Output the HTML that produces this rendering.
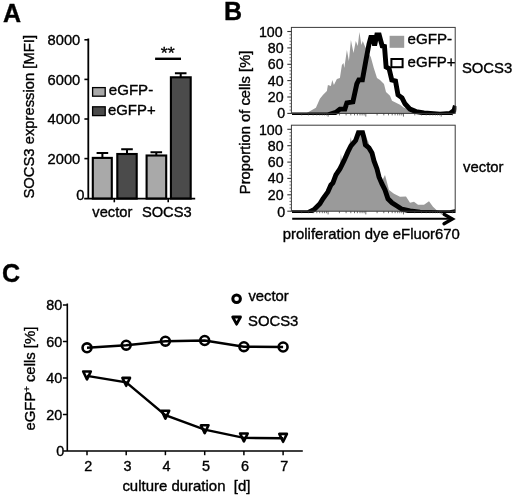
<!DOCTYPE html>
<html><head><meta charset="utf-8"><title>Figure</title>
<style>
html,body{margin:0;padding:0;background:#fff;}
svg{display:block;}
text{font-family:"Liberation Sans", Arial, Helvetica, sans-serif;fill:#000;stroke:#000;stroke-width:0.36px;}
</style></head><body>
<svg width="520" height="501" viewBox="0 0 520 501">
<rect x="0" y="0" width="520" height="501" fill="#fff"/>

<text x="3.1" y="21.9" font-size="25" font-weight="bold">A</text>
<text x="224" y="19.6" font-size="25" font-weight="bold">B</text>
<text x="1.9" y="282" font-size="25" font-weight="bold">C</text>
<g font-size="14.7">
<path d="M102.4 157.9V153.0M96.6 153.0H108.2" stroke="#000" stroke-width="2" fill="none"/>
<rect x="92.8" y="157.9" width="19.0" height="40.7" fill="#a9a9a9" stroke="#000" stroke-width="2.1"/>
<path d="M127.0 154.0V149.2M121.2 149.2H132.8" stroke="#000" stroke-width="2" fill="none"/>
<rect x="117.3" y="154.0" width="19.4" height="44.6" fill="#4b4b4b" stroke="#000" stroke-width="2.1"/>
<path d="M156.3 155.5V152.2M150.5 152.2H162.1" stroke="#000" stroke-width="2" fill="none"/>
<rect x="146.6" y="155.5" width="19.6" height="43.1" fill="#a9a9a9" stroke="#000" stroke-width="2.1"/>
<path d="M180.7 77.3V73.2M174.9 73.2H186.5" stroke="#000" stroke-width="2" fill="none"/>
<rect x="170.9" y="77.3" width="19.8" height="121.3" fill="#4b4b4b" stroke="#000" stroke-width="2.1"/>
<path d="M88.3 38.5V198.6M84.2 198.6H195.2" stroke="#000" stroke-width="1.8" fill="none"/>
<text x="84.3" y="199.7" text-anchor="end">0</text>
<path d="M84.4 158.6H88.3" stroke="#000" stroke-width="1.6"/>
<text x="80.3" y="163.9" text-anchor="end">2000</text>
<path d="M84.4 119.0H88.3" stroke="#000" stroke-width="1.6"/>
<text x="80.3" y="124.3" text-anchor="end">4000</text>
<path d="M84.4 79.4H88.3" stroke="#000" stroke-width="1.6"/>
<text x="80.3" y="84.7" text-anchor="end">6000</text>
<path d="M84.4 39.8H88.3" stroke="#000" stroke-width="1.6"/>
<text x="80.3" y="45.1" text-anchor="end">8000</text>
<path d="M114.3 198.6V202.3" stroke="#000" stroke-width="1.6"/>
<path d="M168.2 198.6V202.3" stroke="#000" stroke-width="1.6"/>
<text x="112.3" y="217" text-anchor="middle">vector</text>
<text x="166.8" y="217" text-anchor="middle">SOCS3</text>
<text transform="translate(34.4,198.6) rotate(-90)" textLength="163.6" lengthAdjust="spacingAndGlyphs">SOCS3 expression [MFI]</text>
<rect x="92.6" y="87.6" width="12.6" height="8.6" fill="#a9a9a9" stroke="#000" stroke-width="1.3"/>
<rect x="92.6" y="106.8" width="12.6" height="8.8" fill="#4b4b4b" stroke="#000" stroke-width="1.3"/>
<text x="108.8" y="95.4" textLength="44.4" lengthAdjust="spacingAndGlyphs">eGFP-</text>
<text x="108" y="114.7" textLength="47.6" lengthAdjust="spacingAndGlyphs">eGFP+</text>
<path d="M155.1 58.8H181" stroke="#000" stroke-width="2.4"/>
<text transform="translate(167.8,58.6) scale(0.9,0.8)" font-size="20" text-anchor="middle" stroke="#000" stroke-width="0.35">**</text>
</g>
<g font-size="14.5">
<clipPath id="c1"><rect x="291.4" y="27.4" width="165" height="87.7"/></clipPath>
<polygon points="305.9,113.4 315.9,107.8 319.9,98.8 322.9,94.9 326.9,90.9 327.9,84.9 330.9,85.9 332.3,79.9 333.9,84.9 336.9,78.9 339.9,77.9 341.9,64.9 343.5,62.9 344.3,67.9 346.9,49.9 348.9,60.9 350.9,40.0 353.5,52.9 355.8,41.0 357.8,45.9 359.4,32.0 361.4,45.0 362.8,41.0 364.8,45.9 367.8,51.9 370.8,56.9 373.8,67.9 377.0,77.9 380.0,79.9 384.0,83.9 386.0,91.9 390.0,95.8 392.0,100.8 396.0,102.8 400.0,104.8 404.0,107.8 410.0,109.8 420.0,111.8 440.0,113.4" fill="#9a9a9a"/>
<polyline points="292.0,114.9 328.0,114.9 335.9,112.4 339.9,109.1 344.9,109.1 346.9,102.8 352.9,101.8 356.8,83.9 358.8,79.9 362.4,79.9 366.0,59.9 369.0,44.0 370.8,37.4 372.8,37.4 374.6,45.5 376.8,35.0 379.2,35.0 380.8,41.0 382.2,46.0 384.5,46.5 386.1,67.0 389.1,68.7 391.8,80.0 395.5,81.0 398.0,94.9 402.0,97.8 405.0,103.8 410.0,109.1 416.0,111.6 424.0,112.9 440.0,114.1 450.0,113.4 454.0,110.4 455.4,105.8" fill="none" stroke="#000" stroke-width="4.9" stroke-linejoin="miter" stroke-miterlimit="3" clip-path="url(#c1)"/>
<rect x="291.4" y="27.4" width="163.8" height="86.0" fill="none" stroke="#3a3a3a" stroke-width="1"/>
<path d="M301.7 113.4V115.4" stroke="#333" stroke-width="0.7"/>
<path d="M308.4 113.4V115.4" stroke="#333" stroke-width="0.7"/>
<path d="M313.1 113.4V115.4" stroke="#333" stroke-width="0.7"/>
<path d="M316.8 113.4V115.4" stroke="#333" stroke-width="0.7"/>
<path d="M319.7 113.4V115.4" stroke="#333" stroke-width="0.7"/>
<path d="M322.3 113.4V115.4" stroke="#333" stroke-width="0.7"/>
<path d="M324.4 113.4V115.4" stroke="#333" stroke-width="0.7"/>
<path d="M326.4 113.4V115.4" stroke="#333" stroke-width="0.7"/>
<path d="M328.1 113.4V116.6" stroke="#333" stroke-width="0.7"/>
<path d="M339.4 113.4V115.4" stroke="#333" stroke-width="0.7"/>
<path d="M346.1 113.4V115.4" stroke="#333" stroke-width="0.7"/>
<path d="M350.8 113.4V115.4" stroke="#333" stroke-width="0.7"/>
<path d="M354.5 113.4V115.4" stroke="#333" stroke-width="0.7"/>
<path d="M357.4 113.4V115.4" stroke="#333" stroke-width="0.7"/>
<path d="M360.0 113.4V115.4" stroke="#333" stroke-width="0.7"/>
<path d="M362.1 113.4V115.4" stroke="#333" stroke-width="0.7"/>
<path d="M364.1 113.4V115.4" stroke="#333" stroke-width="0.7"/>
<path d="M365.8 113.4V116.6" stroke="#333" stroke-width="0.7"/>
<path d="M377.1 113.4V115.4" stroke="#333" stroke-width="0.7"/>
<path d="M383.8 113.4V115.4" stroke="#333" stroke-width="0.7"/>
<path d="M388.5 113.4V115.4" stroke="#333" stroke-width="0.7"/>
<path d="M392.2 113.4V115.4" stroke="#333" stroke-width="0.7"/>
<path d="M395.1 113.4V115.4" stroke="#333" stroke-width="0.7"/>
<path d="M397.7 113.4V115.4" stroke="#333" stroke-width="0.7"/>
<path d="M399.8 113.4V115.4" stroke="#333" stroke-width="0.7"/>
<path d="M401.8 113.4V115.4" stroke="#333" stroke-width="0.7"/>
<path d="M403.5 113.4V116.6" stroke="#333" stroke-width="0.7"/>
<path d="M414.8 113.4V115.4" stroke="#333" stroke-width="0.7"/>
<path d="M421.5 113.4V115.4" stroke="#333" stroke-width="0.7"/>
<path d="M426.2 113.4V115.4" stroke="#333" stroke-width="0.7"/>
<path d="M429.9 113.4V115.4" stroke="#333" stroke-width="0.7"/>
<path d="M432.8 113.4V115.4" stroke="#333" stroke-width="0.7"/>
<path d="M435.4 113.4V115.4" stroke="#333" stroke-width="0.7"/>
<path d="M437.5 113.4V115.4" stroke="#333" stroke-width="0.7"/>
<path d="M439.5 113.4V115.4" stroke="#333" stroke-width="0.7"/>
<path d="M441.2 113.4V116.6" stroke="#333" stroke-width="0.7"/>
<path d="M452.5 113.4V115.4" stroke="#333" stroke-width="0.7"/>
<path d="M287.3 113.4H291.4" stroke="#333" stroke-width="1.1"/>
<text x="285.2" y="118.3" text-anchor="end" font-size="14.2">0</text>
<path d="M289.5 110.1H291.4" stroke="#555" stroke-width="0.8"/>
<path d="M289.5 106.8H291.4" stroke="#555" stroke-width="0.8"/>
<path d="M289.5 103.6H291.4" stroke="#555" stroke-width="0.8"/>
<path d="M289.5 100.3H291.4" stroke="#555" stroke-width="0.8"/>
<path d="M287.3 97.0H291.4" stroke="#333" stroke-width="1.1"/>
<text x="283.6" y="101.9" text-anchor="end" font-size="14.2">20</text>
<path d="M289.5 93.7H291.4" stroke="#555" stroke-width="0.8"/>
<path d="M289.5 90.5H291.4" stroke="#555" stroke-width="0.8"/>
<path d="M289.5 87.2H291.4" stroke="#555" stroke-width="0.8"/>
<path d="M289.5 83.9H291.4" stroke="#555" stroke-width="0.8"/>
<path d="M287.3 80.6H291.4" stroke="#333" stroke-width="1.1"/>
<text x="283.6" y="85.5" text-anchor="end" font-size="14.2">40</text>
<path d="M289.5 77.4H291.4" stroke="#555" stroke-width="0.8"/>
<path d="M289.5 74.1H291.4" stroke="#555" stroke-width="0.8"/>
<path d="M289.5 70.8H291.4" stroke="#555" stroke-width="0.8"/>
<path d="M289.5 67.5H291.4" stroke="#555" stroke-width="0.8"/>
<path d="M287.3 64.3H291.4" stroke="#333" stroke-width="1.1"/>
<text x="283.6" y="69.2" text-anchor="end" font-size="14.2">60</text>
<path d="M289.5 61.0H291.4" stroke="#555" stroke-width="0.8"/>
<path d="M289.5 57.7H291.4" stroke="#555" stroke-width="0.8"/>
<path d="M289.5 54.4H291.4" stroke="#555" stroke-width="0.8"/>
<path d="M289.5 51.2H291.4" stroke="#555" stroke-width="0.8"/>
<path d="M287.3 47.9H291.4" stroke="#333" stroke-width="1.1"/>
<text x="283.6" y="52.8" text-anchor="end" font-size="14.2">80</text>
<path d="M289.5 44.6H291.4" stroke="#555" stroke-width="0.8"/>
<path d="M289.5 41.3H291.4" stroke="#555" stroke-width="0.8"/>
<path d="M289.5 38.1H291.4" stroke="#555" stroke-width="0.8"/>
<path d="M289.5 34.8H291.4" stroke="#555" stroke-width="0.8"/>
<path d="M287.3 31.5H291.4" stroke="#333" stroke-width="1.1"/>
<text x="282.6" y="36.8" text-anchor="end" font-size="14.2">100</text>
<clipPath id="c2"><rect x="291.4" y="125.2" width="165" height="87.7"/></clipPath>
<polygon points="307.0,211.2 313.9,208.8 319.9,203.8 322.9,198.8 327.9,191.8 330.9,184.9 332.9,182.9 335.9,174.9 339.9,168.9 340.9,154.0 342.0,162.0 343.9,160.9 347.9,151.9 350.9,137.0 352.0,145.0 354.9,141.9 357.8,132.0 361.8,131.0 364.0,140.0 366.0,137.0 368.0,141.0 371.0,150.0 374.0,160.9 377.0,168.9 379.0,176.9 382.0,180.9 385.0,174.9 389.0,189.9 394.0,193.8 400.0,196.8 406.0,196.4 410.0,202.8 414.0,201.8 418.0,204.8 424.0,204.8 429.0,201.2 433.0,206.8 437.0,210.4 440.0,211.2" fill="#9a9a9a"/>
<polyline points="292.0,212.7 307.9,212.7 313.9,209.7 319.9,203.8 322.9,198.8 327.9,191.8 330.9,184.9 332.9,182.9 335.9,174.9 339.9,168.9 343.9,160.9 347.9,151.9 350.9,145.9 355.6,140.5 358.4,132.8 362.6,132.8 363.8,137.0 365.4,144.9 369.0,147.9 372.0,152.9 374.0,160.9 377.0,168.9 379.0,176.9 382.0,183.9 385.0,189.9 388.0,198.8 392.0,202.8 397.0,206.0 402.0,209.2 410.0,211.0 420.0,212.2 440.0,212.7 450.0,212.7 455.4,211.7" fill="none" stroke="#000" stroke-width="4.9" stroke-linejoin="miter" stroke-miterlimit="3" clip-path="url(#c2)"/>
<rect x="291.4" y="125.2" width="163.8" height="86.0" fill="none" stroke="#3a3a3a" stroke-width="1"/>
<path d="M301.7 211.2V213.2" stroke="#333" stroke-width="0.7"/>
<path d="M308.4 211.2V213.2" stroke="#333" stroke-width="0.7"/>
<path d="M313.1 211.2V213.2" stroke="#333" stroke-width="0.7"/>
<path d="M316.8 211.2V213.2" stroke="#333" stroke-width="0.7"/>
<path d="M319.7 211.2V213.2" stroke="#333" stroke-width="0.7"/>
<path d="M322.3 211.2V213.2" stroke="#333" stroke-width="0.7"/>
<path d="M324.4 211.2V213.2" stroke="#333" stroke-width="0.7"/>
<path d="M326.4 211.2V213.2" stroke="#333" stroke-width="0.7"/>
<path d="M328.1 211.2V214.4" stroke="#333" stroke-width="0.7"/>
<path d="M339.4 211.2V213.2" stroke="#333" stroke-width="0.7"/>
<path d="M346.1 211.2V213.2" stroke="#333" stroke-width="0.7"/>
<path d="M350.8 211.2V213.2" stroke="#333" stroke-width="0.7"/>
<path d="M354.5 211.2V213.2" stroke="#333" stroke-width="0.7"/>
<path d="M357.4 211.2V213.2" stroke="#333" stroke-width="0.7"/>
<path d="M360.0 211.2V213.2" stroke="#333" stroke-width="0.7"/>
<path d="M362.1 211.2V213.2" stroke="#333" stroke-width="0.7"/>
<path d="M364.1 211.2V213.2" stroke="#333" stroke-width="0.7"/>
<path d="M365.8 211.2V214.4" stroke="#333" stroke-width="0.7"/>
<path d="M377.1 211.2V213.2" stroke="#333" stroke-width="0.7"/>
<path d="M383.8 211.2V213.2" stroke="#333" stroke-width="0.7"/>
<path d="M388.5 211.2V213.2" stroke="#333" stroke-width="0.7"/>
<path d="M392.2 211.2V213.2" stroke="#333" stroke-width="0.7"/>
<path d="M395.1 211.2V213.2" stroke="#333" stroke-width="0.7"/>
<path d="M397.7 211.2V213.2" stroke="#333" stroke-width="0.7"/>
<path d="M399.8 211.2V213.2" stroke="#333" stroke-width="0.7"/>
<path d="M401.8 211.2V213.2" stroke="#333" stroke-width="0.7"/>
<path d="M403.5 211.2V214.4" stroke="#333" stroke-width="0.7"/>
<path d="M414.8 211.2V213.2" stroke="#333" stroke-width="0.7"/>
<path d="M421.5 211.2V213.2" stroke="#333" stroke-width="0.7"/>
<path d="M426.2 211.2V213.2" stroke="#333" stroke-width="0.7"/>
<path d="M429.9 211.2V213.2" stroke="#333" stroke-width="0.7"/>
<path d="M432.8 211.2V213.2" stroke="#333" stroke-width="0.7"/>
<path d="M435.4 211.2V213.2" stroke="#333" stroke-width="0.7"/>
<path d="M437.5 211.2V213.2" stroke="#333" stroke-width="0.7"/>
<path d="M439.5 211.2V213.2" stroke="#333" stroke-width="0.7"/>
<path d="M441.2 211.2V214.4" stroke="#333" stroke-width="0.7"/>
<path d="M452.5 211.2V213.2" stroke="#333" stroke-width="0.7"/>
<path d="M287.3 211.2H291.4" stroke="#333" stroke-width="1.1"/>
<text x="285.2" y="216.6" text-anchor="end" font-size="14.2">0</text>
<path d="M289.5 207.9H291.4" stroke="#555" stroke-width="0.8"/>
<path d="M289.5 204.6H291.4" stroke="#555" stroke-width="0.8"/>
<path d="M289.5 201.4H291.4" stroke="#555" stroke-width="0.8"/>
<path d="M289.5 198.1H291.4" stroke="#555" stroke-width="0.8"/>
<path d="M287.3 194.8H291.4" stroke="#333" stroke-width="1.1"/>
<text x="283.6" y="199.7" text-anchor="end" font-size="14.2">20</text>
<path d="M289.5 191.5H291.4" stroke="#555" stroke-width="0.8"/>
<path d="M289.5 188.3H291.4" stroke="#555" stroke-width="0.8"/>
<path d="M289.5 185.0H291.4" stroke="#555" stroke-width="0.8"/>
<path d="M289.5 181.7H291.4" stroke="#555" stroke-width="0.8"/>
<path d="M287.3 178.4H291.4" stroke="#333" stroke-width="1.1"/>
<text x="283.6" y="183.3" text-anchor="end" font-size="14.2">40</text>
<path d="M289.5 175.2H291.4" stroke="#555" stroke-width="0.8"/>
<path d="M289.5 171.9H291.4" stroke="#555" stroke-width="0.8"/>
<path d="M289.5 168.6H291.4" stroke="#555" stroke-width="0.8"/>
<path d="M289.5 165.3H291.4" stroke="#555" stroke-width="0.8"/>
<path d="M287.3 162.1H291.4" stroke="#333" stroke-width="1.1"/>
<text x="283.6" y="167.0" text-anchor="end" font-size="14.2">60</text>
<path d="M289.5 158.8H291.4" stroke="#555" stroke-width="0.8"/>
<path d="M289.5 155.5H291.4" stroke="#555" stroke-width="0.8"/>
<path d="M289.5 152.2H291.4" stroke="#555" stroke-width="0.8"/>
<path d="M289.5 149.0H291.4" stroke="#555" stroke-width="0.8"/>
<path d="M287.3 145.7H291.4" stroke="#333" stroke-width="1.1"/>
<text x="283.6" y="150.6" text-anchor="end" font-size="14.2">80</text>
<path d="M289.5 142.4H291.4" stroke="#555" stroke-width="0.8"/>
<path d="M289.5 139.1H291.4" stroke="#555" stroke-width="0.8"/>
<path d="M289.5 135.9H291.4" stroke="#555" stroke-width="0.8"/>
<path d="M289.5 132.6H291.4" stroke="#555" stroke-width="0.8"/>
<path d="M287.3 129.3H291.4" stroke="#333" stroke-width="1.1"/>
<text x="282.6" y="134.6" text-anchor="end" font-size="14.2">100</text>
<rect x="389.6" y="35.8" width="14.6" height="12" fill="#9a9a9a"/>
<rect x="391.4" y="59" width="11.2" height="8.2" fill="#fff" stroke="#000" stroke-width="2"/>
<text x="407.6" y="44.2" textLength="44.5" lengthAdjust="spacingAndGlyphs">eGFP-</text>
<text x="407.6" y="66.8" textLength="48" lengthAdjust="spacingAndGlyphs">eGFP+</text>
<text x="461.9" y="73.2" textLength="50.4" lengthAdjust="spacingAndGlyphs" font-size="14.7">SOCS3</text>
<text x="463" y="171.7" textLength="40.5" lengthAdjust="spacingAndGlyphs" font-size="14.7">vector</text>
<text transform="translate(250.4,194.2) rotate(-90)" font-size="14.5" textLength="143.6" lengthAdjust="spacingAndGlyphs">Proportion of cells [%]</text>
<text x="282.8" y="239.1" textLength="177" lengthAdjust="spacingAndGlyphs">proliferation dye eFluor670</text>
<path d="M292.2 218.7H451" stroke="#000" stroke-width="2.1" fill="none"/>
<path d="M444 214.2L452.4 219L444 223.8" stroke="#000" stroke-width="3.3" fill="none" stroke-linecap="round" stroke-linejoin="miter"/>
</g>
<g font-size="14.4">
<path d="M67.3 303.6V451.0M63.2 451.0H302.8" stroke="#000" stroke-width="1.6" fill="none"/>
<text x="64.2" y="455.6" text-anchor="end">0</text>
<path d="M62.9 414.5H67.3" stroke="#000" stroke-width="1.5"/>
<text x="62.2" y="419.6" text-anchor="end">20</text>
<path d="M62.9 378.0H67.3" stroke="#000" stroke-width="1.5"/>
<text x="62.2" y="383.1" text-anchor="end">40</text>
<path d="M62.9 341.5H67.3" stroke="#000" stroke-width="1.5"/>
<text x="62.2" y="346.6" text-anchor="end">60</text>
<path d="M62.9 305.0H67.3" stroke="#000" stroke-width="1.5"/>
<text x="62.2" y="310.1" text-anchor="end">80</text>
<path d="M87.0 451.0V455.2" stroke="#000" stroke-width="1.5"/>
<text x="88.2" y="470.6" text-anchor="middle">2</text>
<path d="M126.2 451.0V455.2" stroke="#000" stroke-width="1.5"/>
<text x="127.4" y="470.6" text-anchor="middle">3</text>
<path d="M165.4 451.0V455.2" stroke="#000" stroke-width="1.5"/>
<text x="166.6" y="470.6" text-anchor="middle">4</text>
<path d="M204.7 451.0V455.2" stroke="#000" stroke-width="1.5"/>
<text x="205.9" y="470.6" text-anchor="middle">5</text>
<path d="M243.9 451.0V455.2" stroke="#000" stroke-width="1.5"/>
<text x="245.1" y="470.6" text-anchor="middle">6</text>
<path d="M283.1 451.0V455.2" stroke="#000" stroke-width="1.5"/>
<text x="284.3" y="470.6" text-anchor="middle">7</text>
<text x="122.4" y="490.8" textLength="128" lengthAdjust="spacingAndGlyphs" style="white-space:pre">culture duration  [d]</text>
<text transform="translate(35.2,430.6) rotate(-90)" textLength="104" lengthAdjust="spacingAndGlyphs">eGFP<tspan font-size="9" dy="-5">+</tspan><tspan dy="5"> cells [%]</tspan></text>
<polyline points="87.0,347.8 126.2,345.2 165.4,341.2 204.7,340.5 243.9,346.7 283.1,347.0" fill="none" stroke="#000" stroke-width="2.4"/>
<polyline points="87.0,375.9 126.2,382.3 165.4,415.1 204.7,429.7 243.9,437.9 283.1,438.3" fill="none" stroke="#000" stroke-width="2.4"/>
<circle cx="87.0" cy="347.8" r="4.45" fill="none" stroke="#000" stroke-width="2.6"/>
<circle cx="126.2" cy="345.2" r="4.45" fill="none" stroke="#000" stroke-width="2.6"/>
<circle cx="165.4" cy="341.2" r="4.45" fill="none" stroke="#000" stroke-width="2.6"/>
<circle cx="204.7" cy="340.5" r="4.45" fill="none" stroke="#000" stroke-width="2.6"/>
<circle cx="243.9" cy="346.7" r="4.45" fill="none" stroke="#000" stroke-width="2.6"/>
<circle cx="283.1" cy="347.0" r="4.45" fill="none" stroke="#000" stroke-width="2.6"/>
<path d="M83.2 371.5H90.8L87.0 379.4Z" fill="none" stroke="#000" stroke-width="2.6" stroke-linejoin="round"/>
<path d="M122.4 377.9H130.0L126.2 385.8Z" fill="none" stroke="#000" stroke-width="2.6" stroke-linejoin="round"/>
<path d="M161.6 410.7H169.2L165.4 418.6Z" fill="none" stroke="#000" stroke-width="2.6" stroke-linejoin="round"/>
<path d="M200.9 425.3H208.5L204.7 433.2Z" fill="none" stroke="#000" stroke-width="2.6" stroke-linejoin="round"/>
<path d="M240.1 433.5H247.7L243.9 441.4Z" fill="none" stroke="#000" stroke-width="2.6" stroke-linejoin="round"/>
<path d="M279.3 433.9H286.9L283.1 441.8Z" fill="none" stroke="#000" stroke-width="2.6" stroke-linejoin="round"/>
<circle cx="236.6" cy="298.7" r="3.8" fill="#fff" stroke="#000" stroke-width="3"/>
<path d="M232.7 317H240.5L236.6 324.2Z" fill="#fff" stroke="#000" stroke-width="2.8" stroke-linejoin="round"/>
<text x="248.4" y="300.8" textLength="40.4" lengthAdjust="spacingAndGlyphs">vector</text>
<text x="248" y="325.5" textLength="50.4" lengthAdjust="spacingAndGlyphs">SOCS3</text>
</g>
</svg></body></html>
